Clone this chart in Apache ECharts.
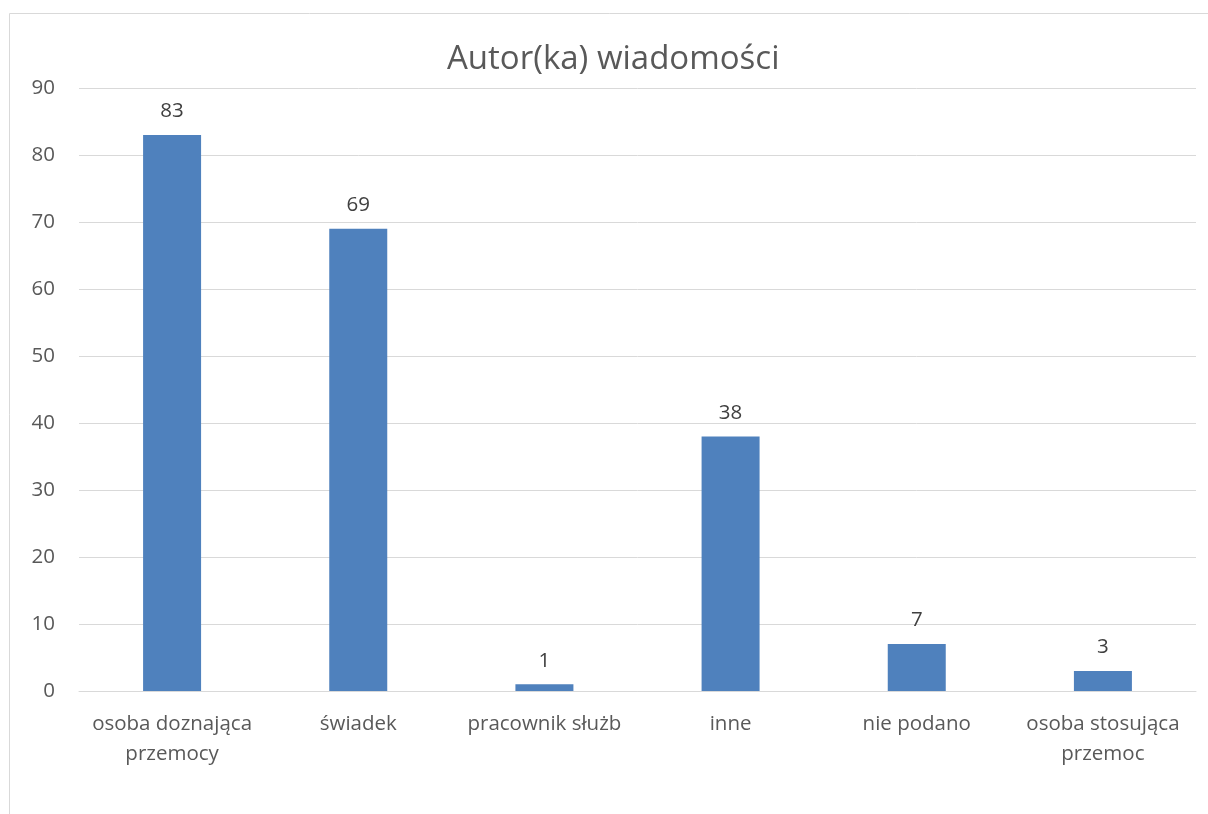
<!DOCTYPE html>
<html>
<head>
<meta charset="utf-8">
<style>
  html, body { margin: 0; padding: 0; background: #fff; }
  #chart { width: 1208px; height: 814px; }
</style>
<script src="https://cdn.jsdelivr.net/npm/echarts@6/dist/echarts.min.js"></script>
</head>
<body>
<div id="chart"></div>
<script>
// dane wykresu
const categories = [
  'osoba doznająca\nprzemocy',
  'świadek',
  'pracownik służb',
  'inne',
  'nie podano',
  'osoba stosująca\nprzemoc'
]
const counts = [83, 69, 1, 38, 7, 3]
const yTicks = { min: 0, max: 90, interval: 10 }

const chart = echarts.init(document.getElementById('chart'), null, { renderer: 'canvas' })
const font = '"Open Sans", sans-serif'

chart.setOption({
  animation: false,
  textStyle: { fontFamily: font },
  title: {
    text: 'Autor(ka) wiadomości',
    left: 442,
    top: 38,
    textStyle: { fontSize: 33, fontWeight: 'normal', color: '#595959', fontFamily: font }
  },
  // ramka obszaru wykresu
  graphic: [{
    type: 'rect',
    shape: { x: 9.5, y: 13.5, width: 1300, height: 900 },
    style: { fill: 'none', stroke: '#d9d9d9', lineWidth: 1 },
    silent: true
  }],
  grid: { left: 79, right: 12, top: 88, bottom: 123 },
  xAxis: {
    type: 'category',
    data: categories,
    axisLine: { show: true, lineStyle: { color: '#d9d9d9', width: 1 } },
    axisTick: { show: false },
    axisLabel: {
      color: '#595959',
      fontSize: 20.5,
      lineHeight: 30,
      margin: 18,
      interval: 0,
      fontFamily: font
    }
  },
  yAxis: {
    type: 'value',
    min: yTicks.min,
    max: yTicks.max,
    interval: yTicks.interval,
    axisLine: { show: false },
    axisTick: { show: false },
    splitLine: { lineStyle: { color: '#d9d9d9', width: 1 } },
    axisLabel: { color: '#595959', fontSize: 20.5, margin: 24, fontFamily: font }
  },
  series: [{
    type: 'bar',
    data: counts,
    barWidth: 58,
    itemStyle: { color: '#4f81bd' },
    label: {
      show: true,
      position: 'top',
      distance: 13,
      color: '#404040',
      fontSize: 20.5,
      fontFamily: font
    }
  }]
})
</script>
</body>
</html>
